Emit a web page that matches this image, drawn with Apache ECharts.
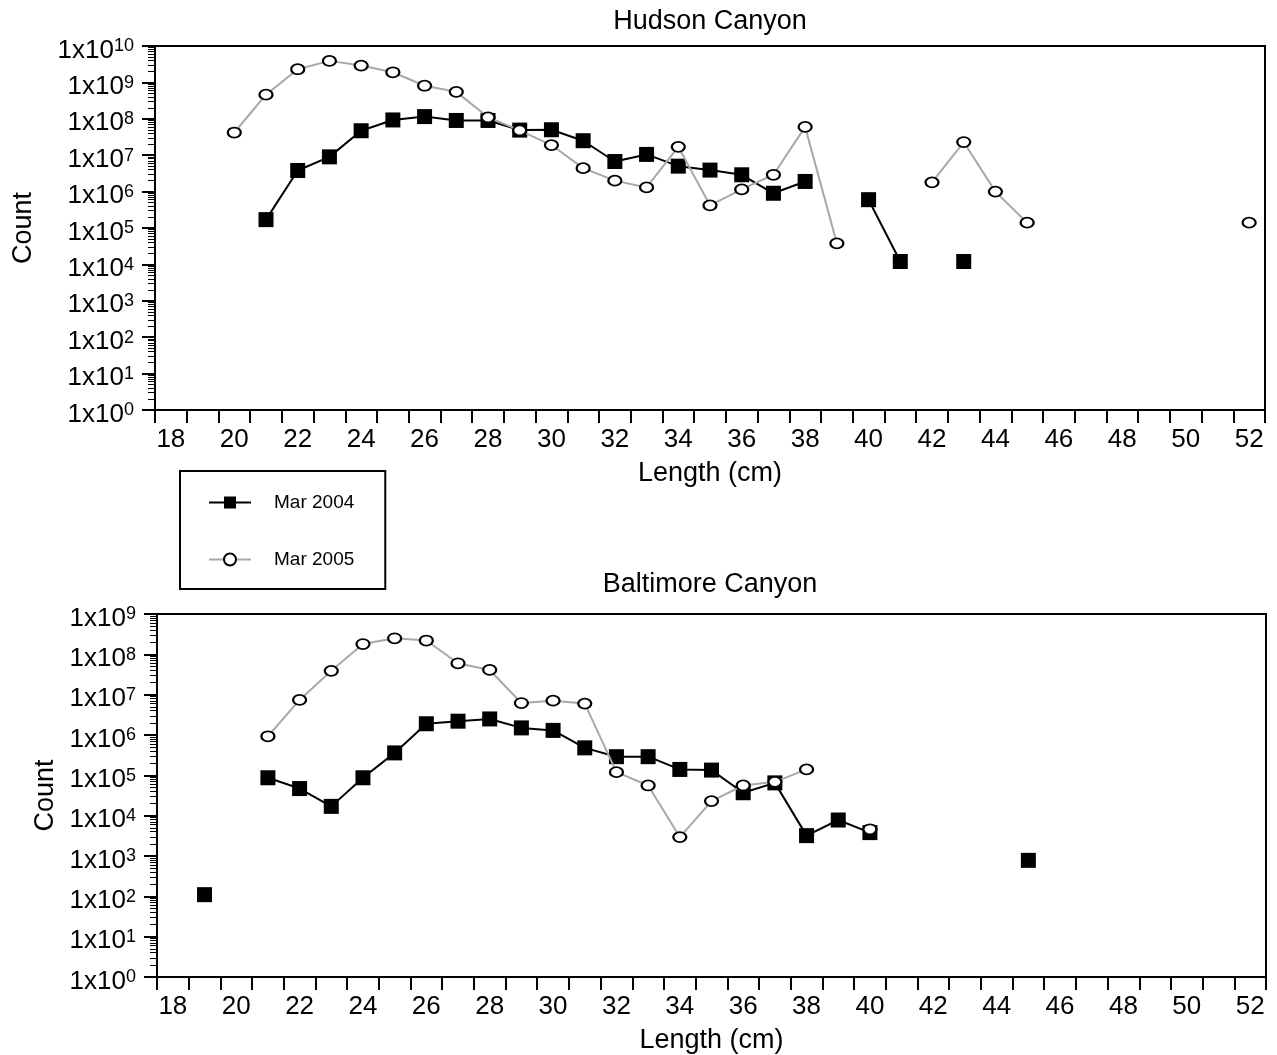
<!DOCTYPE html>
<html>
<head>
<meta charset="utf-8">
<script src="https://cdn.jsdelivr.net/npm/echarts@6/dist/echarts.min.js"></script>
<style>html,body{margin:0;padding:0;background:#fff}#c{width:1277px;height:1055px}</style>
</head>
<body>
<div id="c"></div>
<script>
// Length classes (cm)
const lengths = ['18','19','20','21','22','23','24','25','26','27','28','29','30','31','32','33','34','35','36','37','38','39','40','41','42','43','44','45','46','47','48','49','50','51','52'];

// Hudson Canyon counts
const hudson2004 = [null,null,null,1.7e5,3.8e6,9.0e6,4.7e7,9.3e7,1.15e8,9.0e7,9.0e7,4.9e7,5.0e7,2.5e7,6.7e6,1.05e7,5.0e6,3.9e6,2.9e6,9.0e5,1.9e6,null,6.0e5,1.2e4,null,1.2e4,null,null,null,null,null,null,null,null,null];
const hudson2005 = [null,null,4.2e7,4.6e8,2.3e9,3.9e9,2.9e9,1.9e9,8.1e8,5.5e8,1.1e8,4.8e7,1.9e7,4.4e6,2.0e6,1.3e6,1.7e7,4.2e5,1.15e6,2.9e6,6.0e7,3.8e4,null,null,1.8e6,2.3e7,1.0e6,1.4e5,null,null,null,null,null,null,1.4e5];

// Baltimore Canyon counts
const baltimore2004 = [null,1.1e2,null,8.7e4,4.7e4,1.7e4,8.7e4,3.6e5,1.9e6,2.2e6,2.5e6,1.5e6,1.3e6,4.8e5,2.9e5,2.9e5,1.4e5,1.35e5,3.7e4,6.5e4,3.2e3,7.8e3,3.8e3,null,null,null,null,7.8e2,null,null,null,null,null,null,null];
const baltimore2005 = [null,null,null,9.3e5,7.4e6,3.9e7,1.8e8,2.5e8,2.2e8,6.0e7,4.1e7,6.2e6,7.1e6,6.0e6,1.2e5,5.6e4,2.95e3,2.3e4,5.6e4,6.9e4,1.4e5,null,4.6e3,null,null,null,null,null,null,null,null,null,null,null,null];

// Axis tick decades
const hudsonMaxExp = 10;
const baltimoreMaxExp = 9;
const minorFactors = [2,3,4,5,6,7,8,9];

const FONT = '"Liberation Sans", Arial, Helvetica, sans-serif';

function minorValues(maxExp) {
  const out = [];
  for (let e = 0; e < maxExp; e++) {
    minorFactors.forEach(f => out.push(f * Math.pow(10, e)));
  }
  return out;
}

function yAxes(gridIndex, maxExp, nameGap) {
  const max = Math.pow(10, maxExp);
  return [
    {
      type: 'log', logBase: 10, gridIndex: gridIndex, min: 1, max: max, interval: 1,
      position: 'left',
      name: 'Count', nameLocation: 'middle', nameGap: nameGap,
      nameTextStyle: {fontSize: 27, color: '#000', fontFamily: FONT},
      axisLine: {show: true, lineStyle: {color: '#000', width: 2}},
      axisTick: {show: true, inside: false, length: 13, lineStyle: {color: '#000', width: 2}},
      splitLine: {show: false},
      minorTick: {show: false},
      axisLabel: {
        margin: 21, color: '#000', fontFamily: FONT, padding: [9, 0, 0, 0],
        formatter: function (v) {
          const e = Math.round(Math.log10(v));
          return '{b|1x10}{s|' + e + '}';
        },
        rich: {
          b: {fontSize: 26, lineHeight: 26, color: '#000', fontFamily: FONT},
          s: {fontSize: 18, lineHeight: 10, verticalAlign: 'top', color: '#000', fontFamily: FONT}
        }
      }
    },
    {
      type: 'log', logBase: 10, gridIndex: gridIndex, min: 1, max: max, interval: 1,
      position: 'left', offset: 0,
      axisLine: {show: false},
      axisLabel: {show: false},
      splitLine: {show: false},
      axisTick: {show: true, inside: false, length: 7, customValues: minorValues(maxExp), lineStyle: {color: '#000', width: 1}}
    }
  ];
}

function xAxis(gridIndex) {
  return {
    type: 'category', gridIndex: gridIndex, data: lengths, boundaryGap: true,
    name: 'Length (cm)', nameLocation: 'middle', nameGap: 50,
    nameTextStyle: {fontSize: 27, color: '#000', fontFamily: FONT},
    axisLine: {show: true, lineStyle: {color: '#000', width: 2}},
    axisTick: {show: true, interval: 0, length: 13, lineStyle: {color: '#000', width: 2}},
    axisLabel: {interval: 1, fontSize: 26, color: '#000', margin: 17, fontFamily: FONT},
    splitLine: {show: false}
  };
}

function series2004(name, data, xi, yi) {
  return {
    name: name, type: 'line', xAxisIndex: xi, yAxisIndex: yi, data: data,
    symbol: 'rect', symbolSize: 15, showAllSymbol: true, connectNulls: false,
    itemStyle: {color: '#000'},
    lineStyle: {color: '#000', width: 2},
    emphasis: {disabled: true}, z: 2
  };
}
function series2005(name, data, xi, yi) {
  return {
    name: name, type: 'line', xAxisIndex: xi, yAxisIndex: yi, data: data,
    symbol: 'circle', symbolSize: [13, 10], showAllSymbol: true, connectNulls: false,
    itemStyle: {color: '#fff', borderColor: '#000', borderWidth: 2},
    lineStyle: {color: '#a8a8a8', width: 2},
    emphasis: {disabled: true}, z: 3
  };
}

const chart = echarts.init(document.getElementById('c'), null, {renderer: 'canvas'});
const ya = yAxes(0, hudsonMaxExp, 118);
const yb = yAxes(1, baltimoreMaxExp, 96);
chart.setOption({
  animation: false,
  backgroundColor: '#fff',
  textStyle: {fontFamily: FONT},
  title: [
    {text: 'Hudson Canyon', left: 710, top: 8, textAlign: 'center', padding: 0,
     textStyle: {fontSize: 27, fontWeight: 'normal', color: '#000', fontFamily: FONT}},
    {text: 'Baltimore Canyon', left: 710, top: 571, textAlign: 'center', padding: 0,
     textStyle: {fontSize: 27, fontWeight: 'normal', color: '#000', fontFamily: FONT}}
  ],
  legend: {
    data: ['Mar 2004', 'Mar 2005'],
    orient: 'vertical', left: 180, top: 471,
    padding: [22, 31, 20, 28], itemGap: 38,
    itemWidth: 42, itemHeight: 15,
    borderColor: '#000', borderWidth: 2, backgroundColor: '#fff',
    textStyle: {fontSize: 19, color: '#000', fontFamily: FONT, padding: [0, 0, 0, 18]},
    selectedMode: false
  },
  grid: [
    {left: 155, top: 46, width: 1110, height: 364, show: true, borderColor: '#000', borderWidth: 2},
    {left: 157, top: 614, width: 1109, height: 364, show: true, borderColor: '#000', borderWidth: 2}
  ],
  xAxis: [xAxis(0), xAxis(1)],
  yAxis: [ya[0], ya[1], yb[0], yb[1]],
  series: [
    series2004('Mar 2004', hudson2004, 0, 0),
    series2005('Mar 2005', hudson2005, 0, 0),
    series2004('Mar 2004', baltimore2004, 1, 2),
    series2005('Mar 2005', baltimore2005, 1, 2)
  ]
});
</script>
</body>
</html>
